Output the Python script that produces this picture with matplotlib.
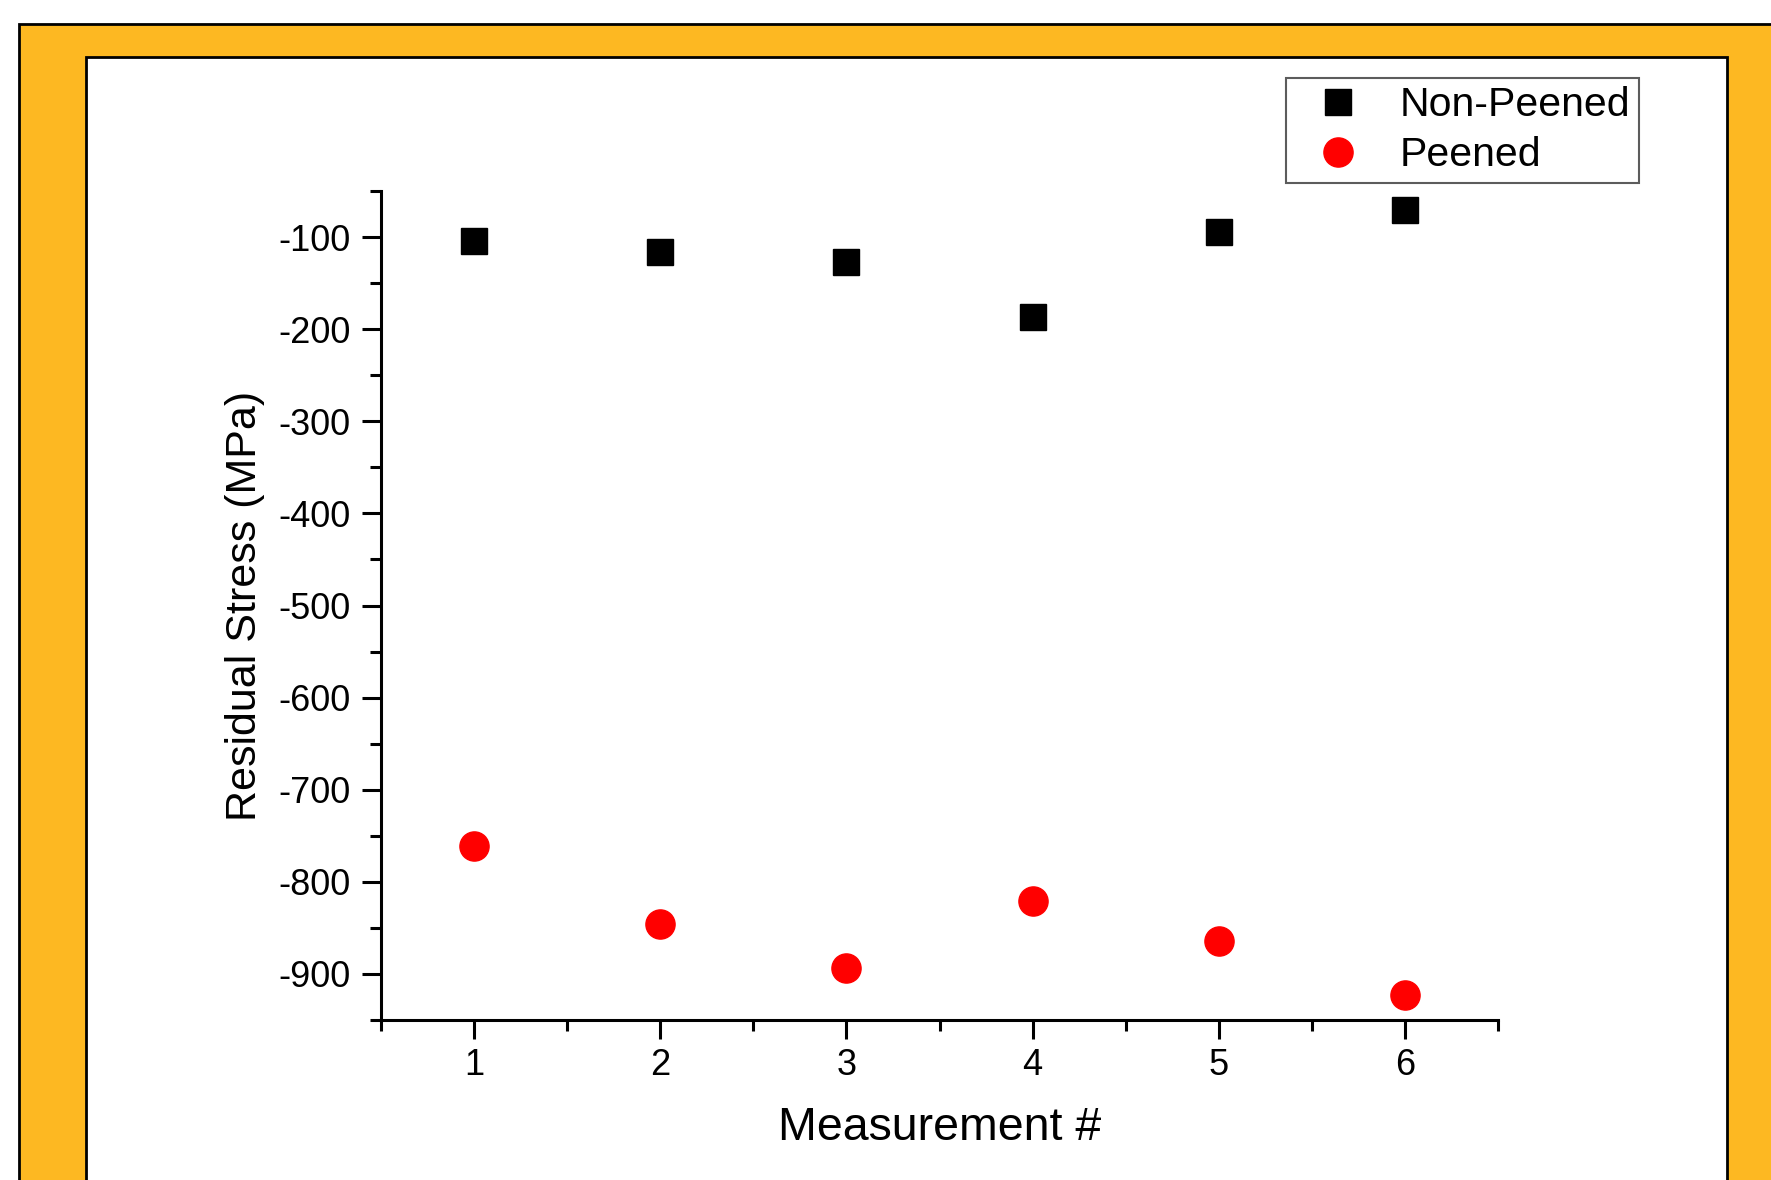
import matplotlib.pyplot as plt
from matplotlib.patches import Rectangle
from matplotlib.ticker import MultipleLocator

plt.rcParams['font.family'] = ['Liberation Sans', 'DejaVu Sans']
plt.rcParams['axes.unicode_minus'] = False

measurement = [1, 2, 3, 4, 5, 6]
non_peened = [-104, -116, -127, -187, -95, -71]
peened = [-761, -846, -894, -821, -864, -923]

W, H = 1771, 1180
fig = plt.figure(figsize=(W / 100, H / 100), dpi=100)
fig.patch.set_facecolor('white')

# orange frame and the white panel inside it (drawn below the axes)
fig.patches.append(Rectangle((19 / W, -0.1), 1.2, 1 - 24 / H + 0.1, transform=fig.transFigure,
                             facecolor='#FDB822', edgecolor='black', linewidth=2, zorder=-2))
fig.patches.append(Rectangle((86 / W, -0.1), (1727 - 86) / W, 1 - 57 / H + 0.1, transform=fig.transFigure,
                             facecolor='white', edgecolor='black', linewidth=2, zorder=-1))

ax = fig.add_axes([381 / W, 1 - 1020 / H, (1498 - 381) / W, (1020 - 191) / H])
ax.set_facecolor('none')

ax.plot(measurement, non_peened, 's', color='black', markersize=19, label='Non-Peened')
ax.plot(measurement, peened, 'o', color='red', markersize=21, label='Peened')

ax.set_xlim(0.5, 6.5)
ax.set_ylim(-950, -50)
ax.xaxis.set_major_locator(MultipleLocator(1))
ax.xaxis.set_minor_locator(MultipleLocator(0.5))
ax.yaxis.set_major_locator(MultipleLocator(100))
ax.yaxis.set_minor_locator(MultipleLocator(50))

for side in ('top', 'right'):
    ax.spines[side].set_visible(False)
for side in ('left', 'bottom'):
    ax.spines[side].set_linewidth(2.2)

ax.tick_params(which='major', direction='out', length=14, width=2.2, labelsize=26, pad=8)
ax.tick_params(which='minor', direction='out', length=8, width=2.2)
ax.tick_params(axis='x', which='major', pad=6)

ax.set_xlabel('Measurement #', fontsize=33.5, labelpad=17)
ax.set_ylabel('Residual Stress (MPa)', fontsize=31)
ax.yaxis.set_label_coords((265 - 381) / 1117, 0.5)

leg = ax.legend(loc='upper left', bbox_to_anchor=(1286 / W, 1 - 78 / H), bbox_transform=fig.transFigure,
                fontsize=29.5, frameon=True, fancybox=False, borderaxespad=0, handletextpad=0.44,
                borderpad=0.2, labelspacing=0.3, handlelength=2.14)
leg.get_frame().set_edgecolor('#333333')
leg.get_frame().set_linewidth(1.5)

fig.savefig('out.png', dpi=100)
